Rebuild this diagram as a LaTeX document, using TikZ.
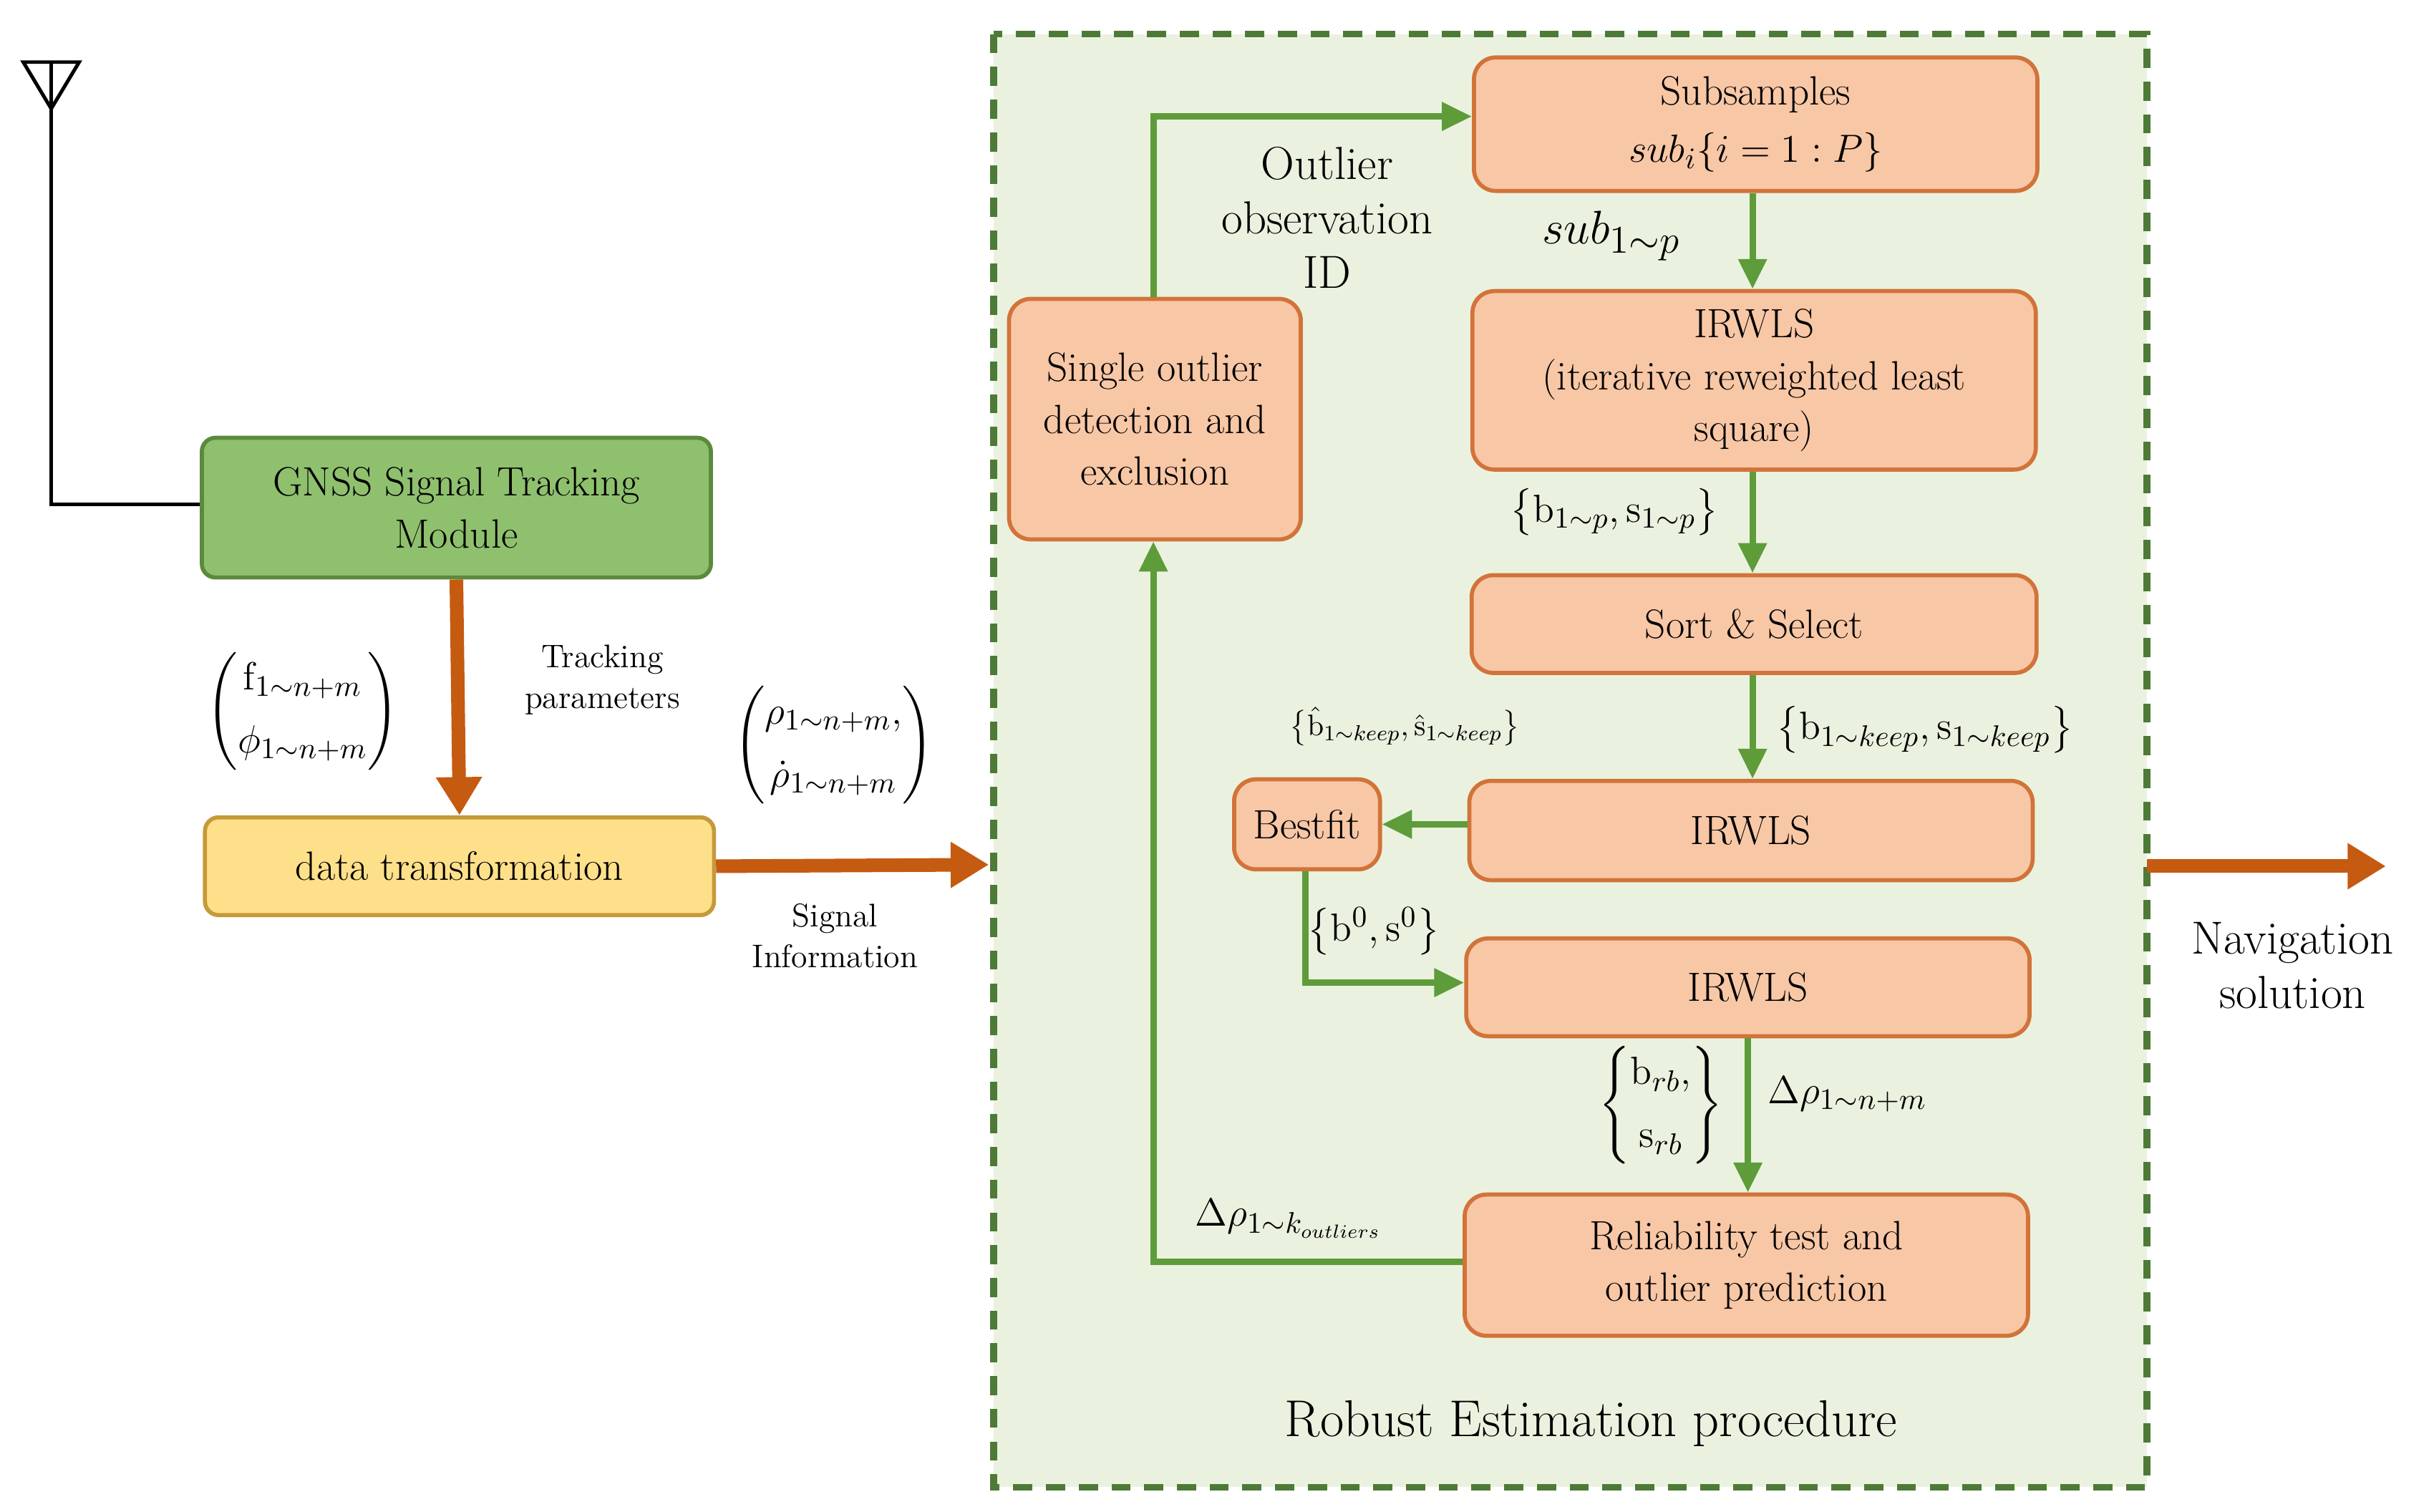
\documentclass[tikz,border=0pt]{standalone}
\usepackage{amsmath}
\usetikzlibrary{arrows.meta}
\definecolor{gfill}{HTML}{8FC06E}\definecolor{gdraw}{HTML}{5B8A3C}
\definecolor{yfill}{HTML}{FFE08A}\definecolor{ydraw}{HTML}{C49A3A}
\definecolor{ofill}{HTML}{F8C7A6}\definecolor{odraw}{HTML}{D2733A}
\definecolor{bgreen}{HTML}{EAF2DF}\definecolor{dgreen}{HTML}{4E7A37}
\definecolor{garrow}{HTML}{5E9C3A}\definecolor{oarrow}{HTML}{C55A11}
\begin{document}
\begin{tikzpicture}[x=0.02cm,y=-0.02cm,
 box/.style={draw=odraw,fill=ofill,line width=1.5pt,rounded corners=8pt,align=center,font=\fontsize{15}{19}\selectfont},
 ga/.style={draw=garrow,line width=2.4pt,-{Triangle[length=11pt,width=10pt]}},
 oa/.style={draw=oarrow,line width=5pt,-{Triangle[length=14pt,width=16pt]}},
 lab/.style={font=\fontsize{15}{19}\selectfont,inner sep=1pt},
 sl/.style={font=\fontsize{12}{15}\selectfont,align=center,inner sep=1pt}]
\useasboundingbox (0,0) rectangle (1568,974);
% dashed region
\draw[fill=bgreen,draw=dgreen,line width=2.5pt,dash pattern=on 7pt off 5pt] (640,22) rectangle (1383,958);
\node[font=\fontsize{19}{23}\selectfont] (ttl) at (1025,917) {Robust Estimation procedure};
% antenna
\draw[line width=1.3pt] (15,40) -- (51,40) -- (33,70) -- cycle;
\coordinate (ant) at (33,40);
\coordinate (antc) at (33,325);
% left boxes
\node[draw=gdraw,fill=gfill,line width=1.5pt,rounded corners=5pt,align=center,font=\fontsize{15}{19}\selectfont,
  minimum width=6.56cm,minimum height=1.8cm] (gnss) at (294,327) {GNSS Signal Tracking\\Module};
\draw[line width=1.3pt] (ant) -- (antc) -- (gnss.west |- antc);
\node[draw=ydraw,fill=yfill,line width=1.5pt,rounded corners=5pt,minimum width=6.56cm,minimum height=1.26cm,font=\fontsize{15}{19}\selectfont] (dt) at (296,558) {data transformation};
\draw[oa] (gnss.south) -- (dt.north);
\node[lab] (fl) at (195,458) {$\begin{pmatrix}\mathrm{f}_{1\sim n+m}\\[4pt]\phi_{1\sim n+m}\end{pmatrix}$};
\node[sl] (tp) at (388,438) {Tracking\\parameters};
\coordinate (inl) at (637,557);
\draw[oa] (dt.east) -- (inl);
\node[lab] (rl) at (537,480) {$\begin{pmatrix}\rho_{1\sim n+m},\\[4pt]\dot\rho_{1\sim n+m}\end{pmatrix}$};
\node[sl] (si) at (538,603) {Signal\\Information};
% boxes
\node[box,minimum width=7.26cm,minimum height=1.72cm] (sub) at (1131,80) {Subsamples\\[2pt]$sub_i\{i=1:P\}$};
\node[box,minimum width=7.26cm,minimum height=2.3cm] (ir1) at (1130,245) {IRWLS\\(iterative reweighted least\\square)};
\node[box,minimum width=7.28cm,minimum height=1.26cm] (ss) at (1130,402) {Sort \& Select};
\node[box,minimum width=7.26cm,minimum height=1.28cm] (ir2) at (1128,535) {IRWLS};
\node[box,minimum width=1.88cm,minimum height=1.16cm] (bf) at (842,531) {Bestfit};
\node[box,minimum width=7.26cm,minimum height=1.26cm] (ir3) at (1126,636) {IRWLS};
\node[box,minimum width=7.26cm,minimum height=1.82cm] (rel) at (1125,815) {Reliability test and\\outlier prediction};
\node[box,minimum width=3.76cm,minimum height=3.1cm] (so) at (744,270) {Single outlier\\detection and\\exclusion};
% green arrows
\draw[ga] (sub.south -| 1129,0) -- (ir1.north -| 1129,0);
\node[font=\fontsize{19}{23}\selectfont] (l1) at (1038,152) {$sub_{1\sim p}$};
\draw[ga] (ir1.south -| 1129,0) -- (ss.north -| 1129,0);
\node[lab] (l2) at (1040,330) {$\big\{\mathrm{b}_{1\sim p},\mathrm{s}_{1\sim p}\big\}$};
\draw[ga] (ss.south -| 1129,0) -- (ir2.north -| 1129,0);
\node[lab] (l3) at (1240,470) {$\big\{\mathrm{b}_{1\sim keep},\mathrm{s}_{1\sim keep}\big\}$};
\draw[ga] (ir2.west |- bf.east) -- (bf.east);
\node[font=\fontsize{11}{14}\selectfont,inner sep=1pt] (l4) at (905,468) {$\big\{\hat{\mathrm{b}}_{1\sim keep},\hat{\mathrm{s}}_{1\sim keep}\big\}$};
\coordinate (c1) at (841,633);
\draw[ga] (bf.south -| c1) -- (c1) -- (ir3.west |- c1);
\node[lab] (l5) at (885,600) {$\big\{\mathrm{b}^0,\mathrm{s}^0\big\}$};
\draw[ga] (ir3.south -| 1126,0) -- (rel.north -| 1126,0);
\node[lab] (l6) at (1070,712) {$\left\{\begin{matrix}\mathrm{b}_{rb},\\[4pt]\mathrm{s}_{rb}\end{matrix}\right\}$};
\node[lab] (l7) at (1190,705) {$\Delta\rho_{1\sim n+m}$};
\coordinate (c2) at (743,813);
\draw[ga] (rel.west |- c2) -- (c2) -- (so.south -| c2);
\node[lab] (l8) at (830,785) {$\Delta\rho_{1\sim k_{outliers}}$};
\coordinate (c3) at (743,75);
\draw[ga] (so.north -| c3) -- (c3) -- (sub.west |- c3);
\node[lab,align=center,font=\fontsize{17}{20}\selectfont] (l9) at (855,140) {Outlier\\observation\\ID};
% output
\coordinate (o1) at (1383,558); \coordinate (o2) at (1537,558);
\draw[oa] (o1) -- (o2);
\node[align=center,font=\fontsize{17}{20}\selectfont] (nav) at (1477,622) {Navigation\\solution};
\end{tikzpicture}
\end{document}
